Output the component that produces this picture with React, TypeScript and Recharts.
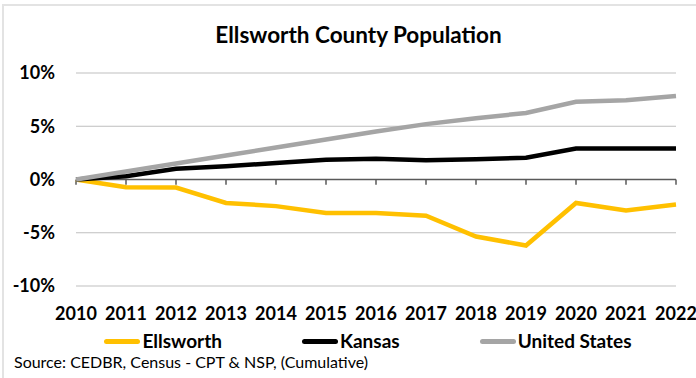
import React from 'react';
import { LineChart, Line, XAxis, YAxis, CartesianGrid, ReferenceLine } from 'recharts';

const years = ['2010', '2011', '2012', '2013', '2014', '2015', '2016', '2017', '2018', '2019', '2020', '2021', '2022'];
const ellsworth = [0, -0.73, -0.75, -2.2, -2.5, -3.15, -3.15, -3.4, -5.35, -6.2, -2.2, -2.9, -2.35];
const kansas = [0, 0.3, 1.0, 1.25, 1.55, 1.85, 1.95, 1.8, 1.9, 2.05, 2.9, 2.9, 2.9];
const unitedStates = [0, 0.75, 1.5, 2.25, 3.0, 3.75, 4.5, 5.2, 5.75, 6.25, 7.3, 7.45, 7.85];
const yTicks = [-10, -5, 0, 5, 10];

const data = years.map((year, i) => ({
  year,
  ellsworth: ellsworth[i],
  kansas: kansas[i],
  us: unitedStates[i],
}));

const series = [
  { key: 'ellsworth', name: 'Ellsworth', color: '#FFC000' },
  { key: 'kansas', name: 'Kansas', color: '#000000' },
  { key: 'us', name: 'United States', color: '#A5A5A5' },
];

const FONT = 'Lato, "Open Sans", sans-serif';

// legend spaced like Excel: short line sample then bold label
const LegendRow = () => (
  <div style={{ display: 'flex', justifyContent: 'center', gap: 80, fontFamily: FONT, fontWeight: 700, fontSize: 19, lineHeight: '24px', color: '#000', paddingLeft: 40 }}>
    {series.map((s) => (
      <div key={s.key} style={{ display: 'flex', alignItems: 'center' }}>
        <span style={{ display: 'inline-block', width: 36, height: 5, borderRadius: 3, background: s.color, marginRight: 2 }} />
        <span>{s.name}</span>
      </div>
    ))}
  </div>
);

export default function App() {
  return (
    <div style={{ position: 'absolute', left: 0, top: 0, width: 696, height: 378, background: '#fff', overflow: 'hidden' }}>
      <div style={{ position: 'absolute', left: 2, top: 4, right: 0, bottom: 0, borderTop: '2px solid #E3E3E3', borderLeft: '2px solid #E3E3E3' }} />
      <div style={{ position: 'absolute', left: 0, top: 24, width: 717, textAlign: 'center', fontFamily: FONT, fontWeight: 700, fontSize: 22.5, lineHeight: 1, color: '#000' }}>
        Ellsworth County Population
      </div>
      <LineChart
        width={696}
        height={378}
        data={data}
        margin={{ top: 73, right: 20, left: 16, bottom: 0 }}
        style={{ position: 'absolute', left: 0, top: 0 }}
      >
        <CartesianGrid horizontal={true} vertical={false} stroke="#BFBFBF" strokeWidth={1} />
        <XAxis
          dataKey="year"
          axisLine={false}
          tickLine={false}
          tickSize={0}
          tickMargin={21}
          height={92}
          interval={0}
          tick={{ fill: '#000', fontFamily: FONT, fontWeight: 700, fontSize: 18 }}
        />
        <YAxis
          domain={[-10, 10]}
          ticks={yTicks}
          axisLine={false}
          tickLine={false}
          tickSize={0}
          tickMargin={21}
          width={60}
          tickFormatter={(v) => `${v}%`}
          tick={{ fill: '#000', fontFamily: FONT, fontWeight: 700, fontSize: 18 }}
        />
        <ReferenceLine y={0} stroke="#595959" strokeWidth={1.5} />
        {years.map((y) => (
          <ReferenceLine
            key={y}
            segment={[{ x: y, y: 0 }, { x: y, y: -0.5 }]}
            stroke="#595959"
            strokeWidth={1.5}
          />
        ))}
        {series.map((s) => (
          <Line
            key={s.key}
            type="linear"
            dataKey={s.key}
            name={s.name}
            stroke={s.color}
            strokeWidth={4.5}
            dot={false}
            isAnimationActive={false}
          />
        ))}
      </LineChart>
      <div style={{ position: 'absolute', left: 0, top: 329, width: 696 }}>
        <LegendRow />
      </div>
      <div style={{ position: 'absolute', left: 14, top: 352, fontFamily: FONT, fontSize: 16, color: '#000' }}>
        Source: CEDBR, Census - CPT &amp; NSP, (Cumulative)
      </div>
    </div>
  );
}
